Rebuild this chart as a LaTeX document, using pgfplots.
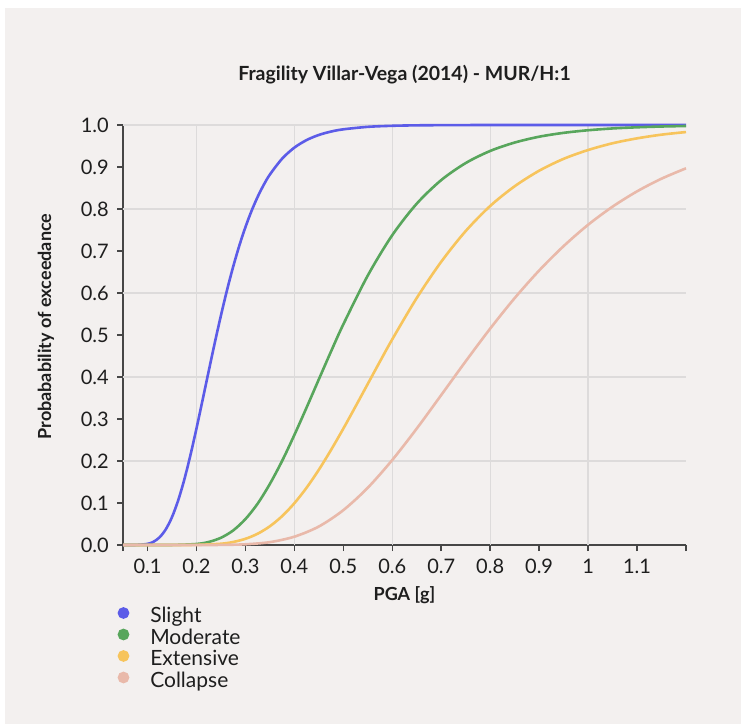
\documentclass[border=0pt]{standalone}
\usepackage{pgfplots}
\pgfplotsset{compat=1.18}
\usepackage{fontspec}
\setmainfont{Lato}

\definecolor{bg}{RGB}{243,240,239}
\definecolor{axiscol}{RGB}{70,70,70}
\definecolor{gridcol}{RGB}{221,219,219}
\definecolor{txt}{RGB}{30,30,30}
\definecolor{slight}{RGB}{92,92,232}
\definecolor{moderate}{RGB}{88,166,92}
\definecolor{extensive}{RGB}{247,196,92}
\definecolor{collapse}{RGB}{233,185,170}

% fragility curves
\pgfplotstableread{
x y
0.05 0
0.075 0.0001
0.1 0.0026
0.1125 0.0078
0.125 0.0186
0.1375 0.0375
0.15 0.0662
0.1625 0.1055
0.175 0.1548
0.1875 0.2128
0.2 0.2770
0.2125 0.3449
0.225 0.4137
0.2375 0.4815
0.25 0.5462
0.2625 0.6070
0.275 0.6624
0.2875 0.7124
0.3 0.7565
0.3125 0.7953
0.325 0.8288
0.3375 0.8576
0.35 0.8820
0.375 0.9198
0.4 0.9461
0.425 0.9641
0.45 0.9763
0.475 0.9844
0.5 0.9897
0.55 0.9956
0.6 0.9981
0.65 0.9992
0.7 0.9996
0.8 1.0
0.9 1.0
1.0 1.0
1.1 1.0
1.2 1.0
}\slighttab

\pgfplotstableread{
x y
0.05 0
0.1 0
0.15 0.0001
0.2 0.0024
0.225 0.0072
0.25 0.0172
0.275 0.0346
0.3 0.0616
0.325 0.0984
0.35 0.1454
0.375 0.2002
0.4 0.2619
0.425 0.3273
0.45 0.3944
0.475 0.4610
0.5 0.5253
0.55 0.6416
0.6 0.7377
0.65 0.8127
0.7 0.8688
0.75 0.9094
0.8 0.9382
0.85 0.9582
0.9 0.9721
0.95 0.9813
1.0 0.9875
1.05 0.9918
1.1 0.9945
1.15 0.9964
1.2 0.9976
}\moderatetab

\pgfplotstableread{
x y
0.05 0
0.1 0
0.15 0
0.2 0.0003
0.25 0.0030
0.275 0.0072
0.3 0.0147
0.325 0.0268
0.35 0.0446
0.375 0.0687
0.4 0.0994
0.425 0.1364
0.45 0.1791
0.475 0.2265
0.5 0.2770
0.525 0.3299
0.55 0.3836
0.575 0.4372
0.6 0.4897
0.65 0.5881
0.7 0.6744
0.75 0.7475
0.8 0.8072
0.85 0.8541
0.9 0.8911
0.95 0.9194
1.0 0.9404
1.05 0.9565
1.1 0.9682
1.15 0.9770
1.2 0.9832
}\extensivetab

\pgfplotstableread{
x y
0.05 0
0.1 0
0.15 0
0.2 0
0.25 0.0002
0.3 0.0017
0.35 0.0068
0.4 0.0198
0.45 0.0440
0.5 0.0829
0.55 0.1363
0.6 0.2024
0.65 0.2772
0.7 0.3570
0.75 0.4374
0.8 0.5152
0.85 0.5878
0.9 0.6535
0.95 0.7116
1.0 0.7624
1.05 0.8056
1.1 0.8420
1.15 0.8722
1.2 0.8969
}\collapsetab

\begin{document}
\begin{tikzpicture}
\fill[white] (0,0) rectangle (741bp,724bp);
\fill[bg] (5bp,0) rectangle (741bp,716bp);
\begin{axis}[
    at={(123bp,179bp)}, anchor=south west,
    scale only axis,
    width=563bp, height=420bp,
    xmin=0.05, xmax=1.2, ymin=0, ymax=1,
    clip=false,
    axis x line*=bottom, axis y line*=left,
    axis line style={draw=axiscol, line width=1.5bp, -},
    tick align=outside,
    major tick length=6bp,
    tick style={draw=axiscol, line width=1.5bp},
    xtick={0.05,0.1,0.2,0.3,0.4,0.5,0.6,0.7,0.8,0.9,1,1.1,1.2},
    xticklabels={,0.1,0.2,0.3,0.4,0.5,0.6,0.7,0.8,0.9,1,1.1,},
    ytick={0,0.1,0.2,0.3,0.4,0.5,0.6,0.7,0.8,0.9,1},
    yticklabels={0.0,0.1,0.2,0.3,0.4,0.5,0.6,0.7,0.8,0.9,1.0},
    extra x ticks={0.2,0.4,0.6,0.8,1.0},
    extra x tick labels={},
    extra x tick style={grid=major, major tick length=0pt, tick style={draw=none}},
    extra y ticks={0.2,0.4,0.6,0.8,1.0},
    extra y tick labels={},
    extra y tick style={grid=major, major tick length=0pt, tick style={draw=none}},
    major grid style={draw=gridcol, line width=1.3bp},
    tick label style={font=\fontsize{20bp}{22bp}\selectfont, text=txt, inner sep=0pt},
    xticklabel style={anchor=north, yshift=-8bp},
    yticklabel style={anchor=east, xshift=-8bp},
    title={Fragility Villar-Vega (2014) - MUR/H:1},
    title style={at={(axis description cs:0.5,1.0925)}, anchor=base,
        font=\fontsize{19.5bp}{22bp}\selectfont\bfseries, text=txt},
    xlabel={PGA [g]},
    xlabel style={at={(axis description cs:0.5,-0.131)}, anchor=base,
        font=\fontsize{18bp}{22bp}\selectfont\bfseries, text=txt},
    ylabel={Probabability of exceedance},
    ylabel style={at={(axis description cs:-0.1368,0.52)}, anchor=center,
        font=\fontsize{18bp}{22bp}\selectfont\bfseries, text=txt},
    legend cell align=left,
    legend style={at={(axis description cs:-0.0098,-0.1476)}, anchor=north west,
        draw=none, fill=none, inner sep=0pt, row sep=0.7bp, column sep=21bp,
        font=\fontsize{21bp}{22bp}\selectfont, text=txt,
        nodes={inner sep=0pt, text height=15bp, text depth=5bp}},
    legend image code/.code={\fill[#1] (0bp,5bp) circle (4.5bp);},
    every axis plot/.append style={line width=2.6bp, smooth},
]
\addplot[slight] table {\slighttab};
\addlegendentry{Slight}
\addplot[moderate] table {\moderatetab};
\addlegendentry{Moderate}
\addplot[extensive] table {\extensivetab};
\addlegendentry{Extensive}
\addplot[collapse] table {\collapsetab};
\addlegendentry{Collapse}
\end{axis}
\end{tikzpicture}
\end{document}
